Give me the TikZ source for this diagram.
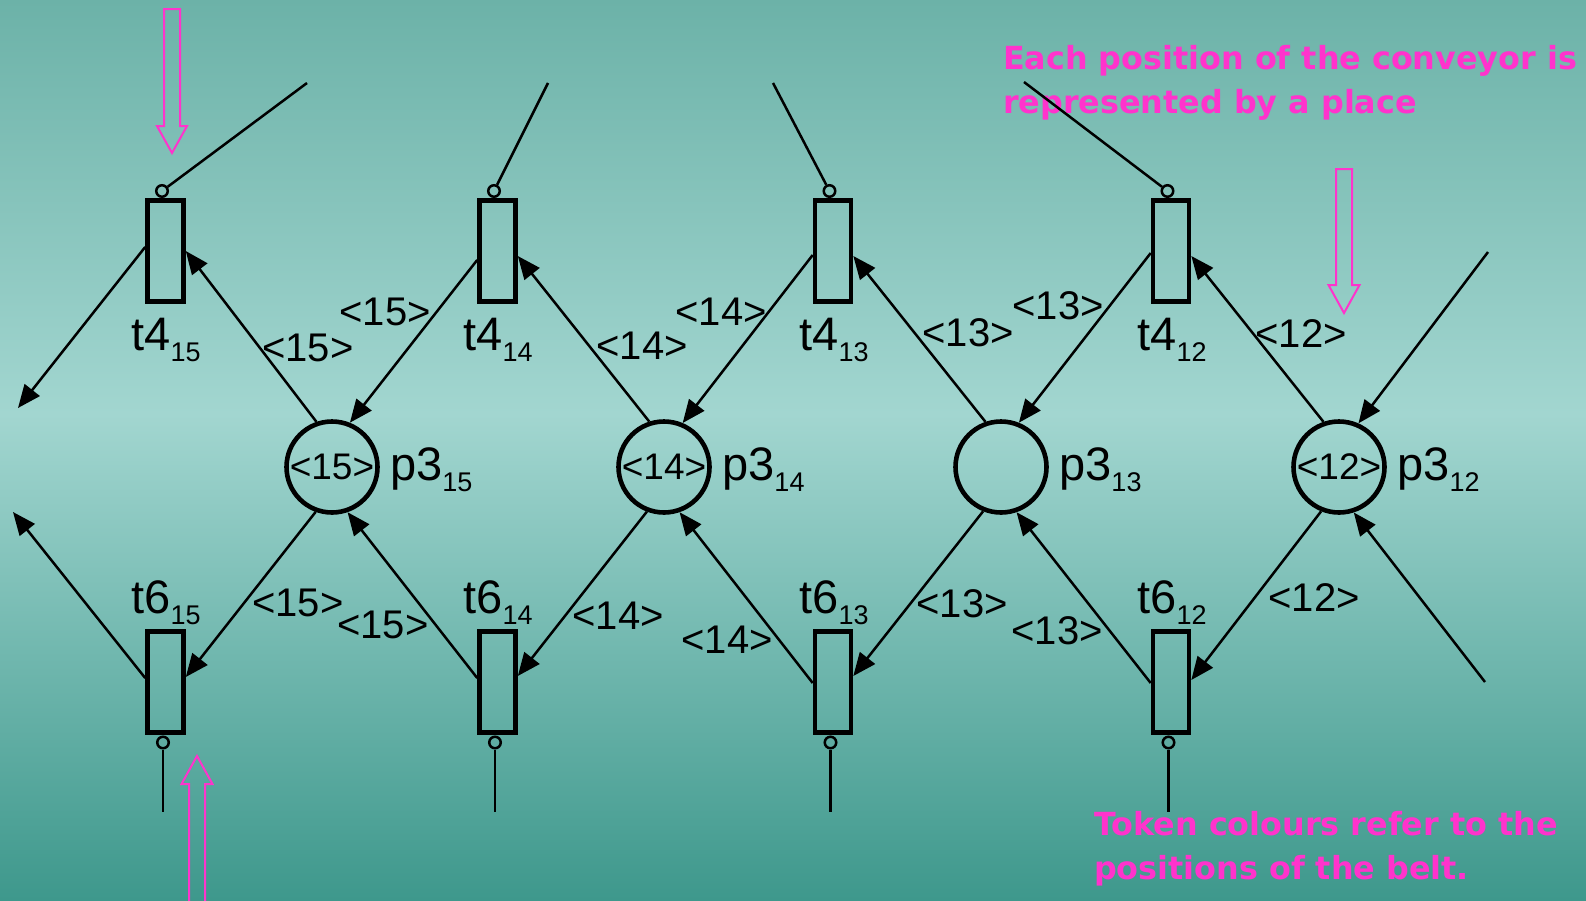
\documentclass[tikz,border=0pt]{standalone}
\usepackage{fontspec}
\setmainfont{Liberation Sans}
\newfontfamily\magfont{DejaVu Sans}
\usetikzlibrary{arrows.meta,calc}
\definecolor{bgtop}{RGB}{108,178,168}
\definecolor{bgmid}{RGB}{162,214,208}
\definecolor{bgbot}{RGB}{62,152,140}
\definecolor{mag}{RGB}{255,51,204}
\pgfdeclareverticalshading{bgshade}{100bp}{color(0bp)=(bgbot); color(25bp)=(bgbot); color(52bp)=(bgmid); color(75bp)=(bgtop); color(100bp)=(bgtop)}
\newcommand\lblsub[1]{\raisebox{-11pt}{\fontsize{27}{27}\selectfont #1}}
\begin{document}
\begin{tikzpicture}[x=1pt,y=-1pt,
 trans/.style={draw, rectangle, line width=4.6pt, minimum width=36pt, minimum height=101.5pt, inner sep=0pt},
 place/.style={draw, circle, line width=4.6pt, minimum size=91pt, inner sep=0pt, font=\fontsize{37}{37}\selectfont},
 inh/.style={draw, circle, line width=2.5pt, minimum size=11.5pt, inner sep=0pt},
 arc/.style={line width=2.5pt, -{Triangle[length=23pt,width=19pt]}},
 thinline/.style={line width=2.5pt},
 elab/.style={inner sep=0pt, font=\fontsize{40}{40}\selectfont},
 tlab/.style={inner sep=0pt, anchor=base, font=\fontsize{47}{47}\selectfont},
 plab/.style={inner sep=0pt, anchor=base west, font=\fontsize{47}{47}\selectfont},
 note/.style={inner sep=0pt, anchor=base west, text=mag, font=\magfont\bfseries\fontsize{31.8}{31.8}\selectfont},
 hollow/.style={draw=mag, line width=2pt, line join=miter},
]
\shade[shading=bgshade] (0,0) rectangle (1586,900);
\useasboundingbox (0,0) rectangle (1586,900);

% notes
\node[note] (n1a) at (1003,69) {Each position of the conveyor is};
\node[note] (n1b) at (1003,113) {represented by a place};
\node[note] (n2a) at (1094,835) {Token colours refer to the};
\node[note] (n2b) at (1094,879) {positions of the belt.};

% transitions
\node[trans] (t415) at (165.5,251) {};
\node[trans] (t414) at (497.5,251) {};
\node[trans] (t413) at (833,251) {};
\node[trans] (t412) at (1171,251) {};
\node[trans] (t615) at (165.5,682) {};
\node[trans] (t614) at (497.5,682) {};
\node[trans] (t613) at (833,682) {};
\node[trans] (t612) at (1171,682) {};

% places
\node[place] (p315) at (332,467) {<15>};
\node[place] (p314) at (664,467) {<14>};
\node[place] (p313) at (1001,467) {};
\node[place] (p312) at (1339,467) {<12>};

% labels
\node[tlab] (lt415) at (166,350) {t4\lblsub{15}};
\node[tlab] (lt414) at (498,350) {t4\lblsub{14}};
\node[tlab] (lt413) at (834,350) {t4\lblsub{13}};
\node[tlab] (lt412) at (1172,350) {t4\lblsub{12}};
\node[tlab] (lt615) at (166,613) {t6\lblsub{15}};
\node[tlab] (lt614) at (498,613) {t6\lblsub{14}};
\node[tlab] (lt613) at (834,613) {t6\lblsub{13}};
\node[tlab] (lt612) at (1172,613) {t6\lblsub{12}};
\node[plab] (lp315) at (390,480) {p3\lblsub{15}};
\node[plab] (lp314) at (722,480) {p3\lblsub{14}};
\node[plab] (lp313) at (1059,480) {p3\lblsub{13}};
\node[plab] (lp312) at (1397,480) {p3\lblsub{12}};

% inhibitor-like circles and lines
\node[inh] (c415) at (162,191) {};
\node[inh] (c414) at (494,191) {};
\node[inh] (c413) at (829.5,191) {};
\node[inh] (c412) at (1167.5,191) {};
\node[inh] (c615) at (163,742.5) {};
\node[inh] (c614) at (495,742.5) {};
\node[inh] (c613) at (830.5,742.5) {};
\node[inh] (c612) at (1168.5,742.5) {};
\coordinate (e415) at (307,83);
\coordinate (e414) at (548,83);
\coordinate (e413) at (773,83);
\coordinate (e412) at (1024,82);
\coordinate (e615) at (163,812);
\coordinate (e614) at (495,812);
\coordinate (e613) at (830.5,812);
\coordinate (e612) at (1168.5,812);
\foreach \n in {415,414,413,412,615,614,613,612}
  \draw[thinline] (c\n) -- (e\n);

% arcs top
\coordinate (o1) at (18,408);
\coordinate (i1) at (1488,252);
\draw[arc] (p315.109) -- (t415.east);
\draw[arc] ($(t415.west)+(0,-4)$) -- (o1);
\draw[arc] ($(t414.west)+(0,9)$) -- (p315.68);
\draw[arc] (p314.108) -- ($(t414.east)+(0,5)$);
\draw[arc] ($(t413.west)+(0,4)$) -- (p314.67);
\draw[arc] (p313.109) -- ($(t413.east)+(0,5)$);
\draw[arc] ($(t412.west)+(0,2)$) -- (p313.68);
\draw[arc] (p312.109) -- ($(t412.east)+(0,5)$);
\draw[arc] (i1) -- (p312.66);

% arcs bottom
\coordinate (o2) at (13,512);
\coordinate (i2) at (1485,682);
\draw[arc] (p315.250) -- ($(t615.east)+(0,-5)$);
\draw[arc] ($(t615.west)+(0,-4)$) -- (o2);
\draw[arc] ($(t614.west)+(0,-4)$) -- (p315.289);
\draw[arc] (p314.249) -- ($(t614.east)+(0,-6)$);
\draw[arc] ($(t613.west)+(0,1)$) -- (p314.289);
\draw[arc] (p313.248) -- ($(t613.east)+(0,-6)$);
\draw[arc] ($(t612.west)+(0,1)$) -- (p313.289);
\draw[arc] (p312.248) -- ($(t612.east)+(0,-2)$);
\draw[arc] (i2) -- (p312.288);

% arc labels
\node[elab] (a1) at (308,348) {<15>};
\node[elab] (a2) at (385,312) {<15>};
\node[elab] (a3) at (642,346) {<14>};
\node[elab] (a4) at (721,312) {<14>};
\node[elab] (a5) at (968,333) {<13>};
\node[elab] (a6) at (1058,306) {<13>};
\node[elab] (a7) at (1301,334) {<12>};
\node[elab] (b1) at (298,603) {<15>};
\node[elab] (b2) at (383,624.5) {<15>};
\node[elab] (b3) at (618,616) {<14>};
\node[elab] (b4) at (727,640) {<14>};
\node[elab] (b5) at (962,604) {<13>};
\node[elab] (b6) at (1057,630.5) {<13>};
\node[elab] (b7) at (1314,598) {<12>};

% hollow pointer arrows
\draw[hollow] (164,9) -- (180,9) -- (180,126) -- (187,126) -- (172,153) -- (157,126) -- (164,126) -- cycle;
\draw[hollow] (1336,169) -- (1352,169) -- (1352,285) -- (1359.5,285) -- (1344,313) -- (1328.5,285) -- (1336,285) -- cycle;
\draw[hollow] (189,910) -- (189,784) -- (181.5,784) -- (197,756) -- (212.5,784) -- (205,784) -- (205,910);
\end{tikzpicture}
\end{document}
